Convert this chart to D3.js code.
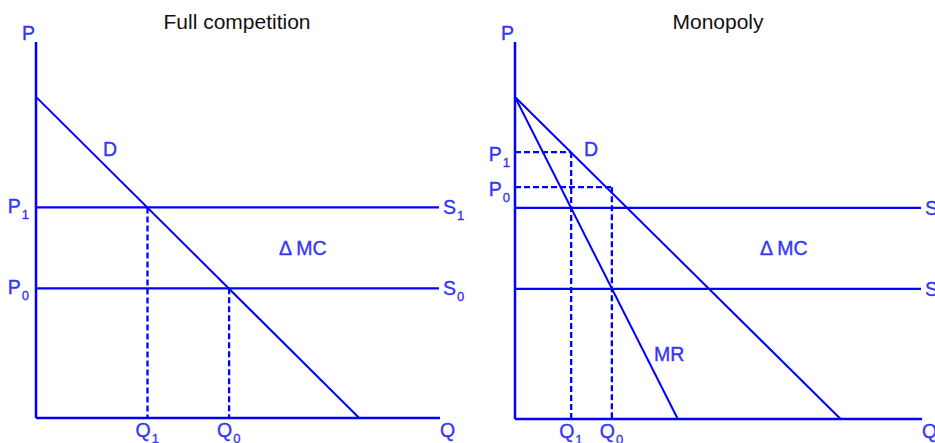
<!DOCTYPE html>
<html>
<head>
<meta charset="utf-8">
<script src="https://cdn.jsdelivr.net/npm/d3@7"></script>
<style>
    body { margin: 0; background: #fff; }
    text { font-family: "Liberation Sans", Arial, Helvetica, sans-serif; }
</style>
</head>
<body>
<div id="chart-area"></div>
<script>
// values (price / quantity units, axes 0..100)
let panelTitles = ["Full competition", "Monopoly"];

// demand: straight line between these two points
let demandQ = [0, 80];
let demandP = [85.4, 0];

// marginal revenue of the monopolist
let mrQ = [0, 40];
let mrP = [85.4, 0];

// marginal cost before (0) and after (1) the shift
let mcLevels = [34.5, 56];

// competitive quantities Q0, Q1
let compQ = [47.8, 27.6];

// monopoly quantities and prices Q0/P0, Q1/P1
let monoQ = [23.8, 13.8];
let monoP = [61.5, 70.8];

let lineColor = "#0000ff",
    textColor = "#3535f5";

let svg = d3.select("#chart-area")
    .append("svg")
    .attr("width", 935)
    .attr("height", 443)
    .style("display", "block");

let panels = [
    {title: panelTitles[0], left: 36, right: 440, bottom: 418, top: 42, titleX: 237,
        d: [103, 156], mc: [279, 255]},
    {title: panelTitles[1], left: 515, right: 922, bottom: 419, top: 42, titleX: 718,
        d: [584, 156], mc: [760, 255], mr: [654, 361]}
];

// text with an optional subscript
function label(x, y, base, sub, anchor) {
    let t = svg.append("text")
        .attr("x", x)
        .attr("y", y)
        .attr("fill", textColor)
        .attr("stroke", textColor)
        .attr("stroke-width", 0.35)
        .attr("font-size", "19.5px")
        .attr("text-anchor", anchor || "start")
        .text(base);
    if (sub !== undefined) {
        t.append("tspan")
            .attr("font-size", "13px")
            .attr("dx", 1)
            .attr("dy", 6)
            .text(sub);
    }
    return t;
}

function segment(x1, y1, x2, y2, dashed, w) {
    svg.append("line")
        .attr("x1", x1).attr("y1", y1)
        .attr("x2", x2).attr("y2", y2)
        .attr("stroke", lineColor)
        .attr("stroke-width", w || 2)
        .attr("stroke-dasharray", dashed ? "6,3" : null);
}

panels.forEach((p, i) => {
    let x = d3.scaleLinear().domain([0, 100]).range([p.left, p.right]);
    let y = d3.scaleLinear().domain([0, 100]).range([p.bottom, p.top]);
    let curve = d3.line().x(d => x(d[0])).y(d => y(d[1]));

    svg.append("text")
        .attr("x", p.titleX)
        .attr("y", 29)
        .attr("text-anchor", "middle")
        .attr("font-size", "21px")
        .attr("fill", "#111")
        .text(p.title);

    // dashed guides first, solid lines on top
    if (i === 0) {
        compQ.forEach((q, k) => {
            segment(x(q), y(mcLevels[k]), x(q), y(0), true, 2.3);
            label(x(q) - 12, p.bottom + 19, "Q", String(k));
        });
        mcLevels.forEach((m, k) => {
            label(x(0) - 7, y(m) + 6, "P", String(k), "end");
        });
    } else {
        monoQ.forEach((q, k) => {
            segment(x(0), y(monoP[k]), x(q), y(monoP[k]), true, 2.3);
            segment(x(q), y(monoP[k]), x(q), y(0), true, 2.3);
            label(x(q) - 12, p.bottom + 19, "Q", String(k));
            label(x(0) - 5, y(monoP[k]) + 9, "P", String(k), "end");
        });
    }

    // marginal cost lines
    mcLevels.forEach((m, k) => {
        segment(x(0), y(m), x(100) - 1, y(m), false, 2.2);
        label(x(100) + 3, y(m) + 7, "S", String(k));
    });

    // demand
    svg.append("path")
        .attr("d", curve(d3.zip(demandQ, demandP)))
        .attr("fill", "none")
        .attr("stroke", lineColor)
        .attr("stroke-width", 2);
    label(p.d[0], p.d[1], "D");

    if (i === 1) {
        svg.append("path")
            .attr("d", curve(d3.zip(mrQ, mrP)))
            .attr("fill", "none")
            .attr("stroke", lineColor)
            .attr("stroke-width", 2);
        label(p.mr[0], p.mr[1], "MR");
    }

    label(p.mc[0], p.mc[1], "\u0394 MC");

    // axes
    segment(x(0), y(0), x(0), p.top, false, 2.5);
    segment(x(0), y(0), x(100), y(0), false, 2.5);
    label(x(0) - 1, p.top - 2, "P", undefined, "end");
    label(x(100), p.bottom + 19, "Q");
});
</script>
</body>
</html>
